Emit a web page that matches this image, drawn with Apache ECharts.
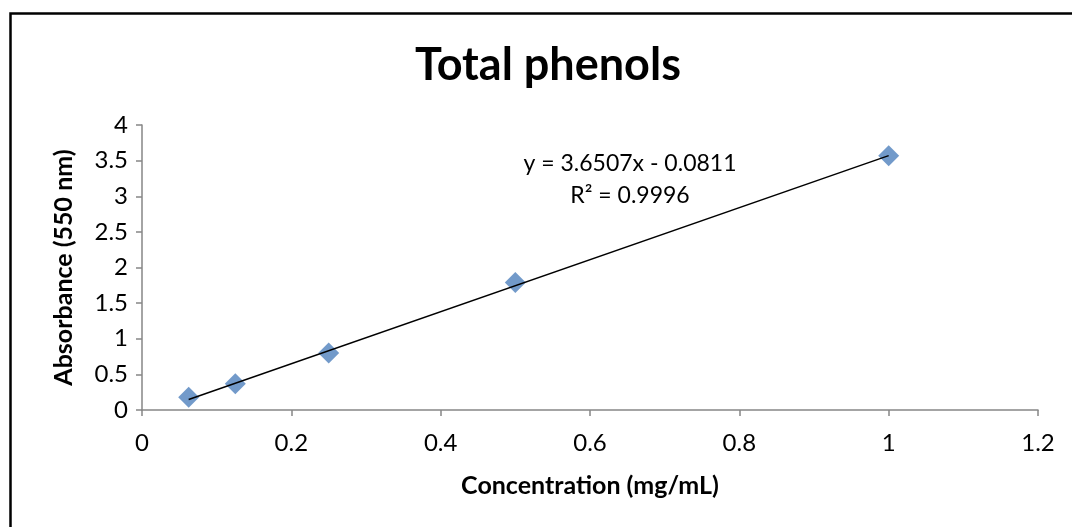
<!DOCTYPE html>
<html><head><meta charset="utf-8">
<script src="https://cdn.jsdelivr.net/npm/echarts@6/dist/echarts.min.js"></script>
<style>html,body{margin:0;padding:0;background:#fff}#c{width:1072px;height:527px}</style>
</head><body><div id="c"></div>
<script>
const concentration = [0.0625, 0.125, 0.25, 0.5, 1.0];
const absorbance = [0.18, 0.37, 0.80, 1.79, 3.57];
const trendSlope = 3.6507;
const trendIntercept = -0.0811;
const trendX = [0.0625, 1.0];
const equationLines = ['y = 3.6507x - 0.0811', 'R² = 0.9996'];

const FONT = 'Lato, "Open Sans", sans-serif';
const chart = echarts.init(document.getElementById('c'));
chart.setOption({
  animation: false,
  backgroundColor: '#fff',
  title: {
    text: 'Total phenols', left: 543, top: 38, textAlign: 'center',
    textStyle: {fontFamily: FONT, fontSize: 45, fontWeight: 'bold', color: '#000'}
  },
  grid: {left: 142, right: 34, top: 125, bottom: 117},
  xAxis: {
    type: 'value', min: 0, max: 1.2, interval: 0.2,
    name: 'Concentration (mg/mL)', nameLocation: 'middle', nameGap: 63,
    nameTextStyle: {fontFamily: FONT, fontSize: 25, fontWeight: 'bold', color: '#000'},
    axisLine: {show: true, lineStyle: {color: '#868686', width: 1.5}},
    axisTick: {show: true, length: 6, lineStyle: {color: '#868686', width: 1.5}},
    axisLabel: {fontFamily: FONT, fontSize: 24, color: '#000', margin: 21,
      formatter: v => String(+v.toFixed(1))},
    splitLine: {show: false}
  },
  yAxis: {
    type: 'value', min: 0, max: 4, interval: 0.5,
    name: 'Absorbance (550 nm)', nameLocation: 'middle', nameGap: 66,
    nameTextStyle: {fontFamily: FONT, fontSize: 25, fontWeight: 'bold', color: '#000'},
    axisLine: {show: true, lineStyle: {color: '#868686', width: 1.5}},
    axisTick: {show: true, length: 6, lineStyle: {color: '#868686', width: 1.5}},
    axisLabel: {fontFamily: FONT, fontSize: 24, color: '#000', margin: 14},
    splitLine: {show: false}
  },
  graphic: [
    {type: 'rect', shape: {x: 10.5, y: 13.5, width: 1200, height: 1000},
     style: {fill: 'none', stroke: '#000', lineWidth: 2.5}, silent: true, z: 100},
    {type: 'text', x: 630, y: 148, style: {text: equationLines.join('\n'),
      font: '23px ' + FONT, fill: '#000', lineHeight: 32, align: 'center'}}
  ],
  series: [
    {
      type: 'scatter', symbol: 'diamond', symbolSize: 21,
      itemStyle: {color: '#4F81BD'},
      data: concentration.map((x, i) => [x, absorbance[i]]), z: 2
    },
    {
      type: 'line', symbol: 'none', silent: true,
      lineStyle: {color: '#000', width: 1.5},
      data: trendX.map(x => [x, trendSlope * x + trendIntercept]), z: 3
    }
  ]
});
</script></body></html>
